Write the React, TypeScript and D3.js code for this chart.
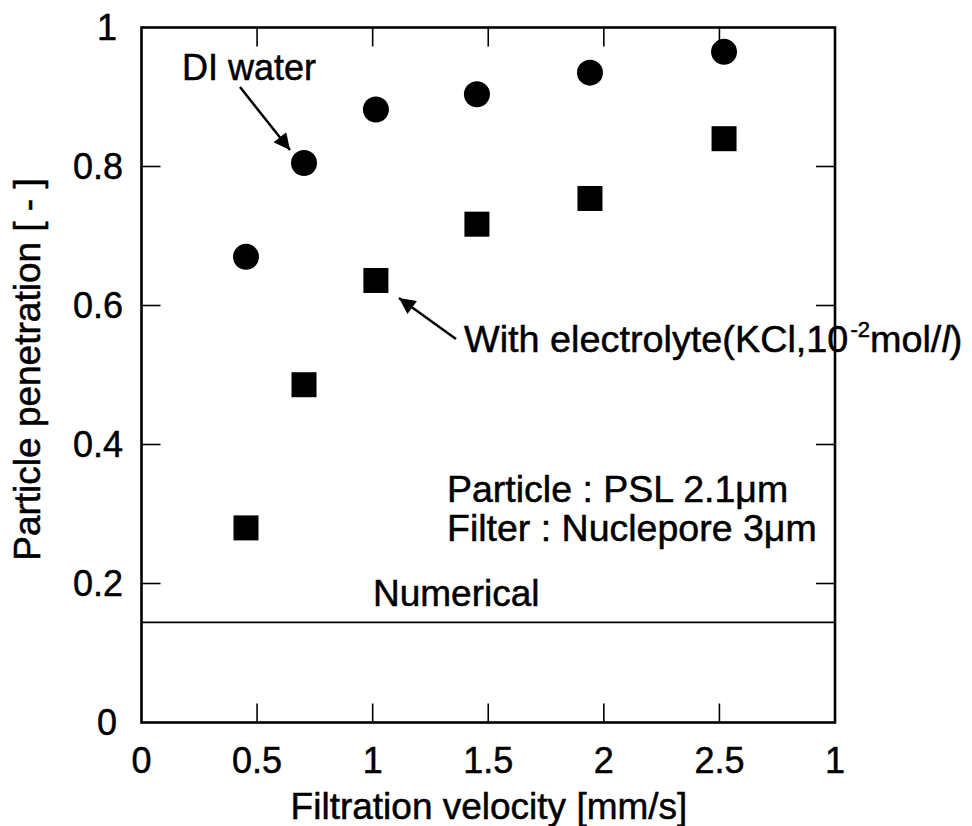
import React from "react";
import * as d3 from "d3";

// ---- data ----
const velocity = [0.452, 0.703, 1.014, 1.451, 1.94, 2.52];
const diWater = [0.67, 0.805, 0.882, 0.904, 0.935, 0.965];
const electrolyte = [0.28, 0.486, 0.636, 0.717, 0.754, 0.84];
const numericalValue = 0.144;
const xTickValues = [0, 0.5, 1, 1.5, 2, 2.5, 3];
const xTickLabels = ["0", "0.5", "1", "1.5", "2", "2.5", "1"];
const yTickValues = [0, 0.2, 0.4, 0.6, 0.8, 1];
const yTickLabels = ["0", "0.2", "0.4", "0.6", "0.8", "1"];

const W = 972;
const H = 826;
const L = 141.5, R = 835, T = 27.5, B = 722.5;
const FONT = "'Liberation Sans', Arial, Helvetica, sans-serif";

export default function App() {
  const x = d3.scaleLinear().domain([0, 3]).range([L, R]);
  const y = d3.scaleLinear().domain([0, 1]).range([B, T]);
  const tick = 19;
  const inner = (v: number) => v > 0 && v < 3;
  const innerY = (v: number) => v > 0 && v < 1;
  const sq = 25;
  const r = 13;

  return (
    <svg
      width={W}
      height={H}
      viewBox={`0 0 ${W} ${H}`}
      style={{ position: "absolute", left: 0, top: 0, background: "#fff" }}
      fontFamily={FONT}
    >
      <defs>
        <marker id="ah" viewBox="0 0 10 10" refX="10" refY="5" markerWidth="8" markerHeight="6.5" orient="auto" markerUnits="strokeWidth">
          <path d="M0,0 L10,5 L0,10 z" fill="#000" />
        </marker>
      </defs>
      <rect x={0} y={0} width={W} height={H} fill="#fff" />

      {/* ticks */}
      <g stroke="#000" strokeWidth={1.6}>
        {xTickValues.filter(inner).map((v, i) => (
          <g key={"xt" + i}>
            <line x1={x(v)} x2={x(v)} y1={B} y2={B - tick} />
            <line x1={x(v)} x2={x(v)} y1={T} y2={T + tick} />
          </g>
        ))}
        {yTickValues.filter(innerY).map((v, i) => (
          <g key={"yt" + i}>
            <line x1={L} x2={L + tick} y1={y(v)} y2={y(v)} />
            <line x1={R} x2={R - tick} y1={y(v)} y2={y(v)} />
          </g>
        ))}
      </g>

      {/* numerical line */}
      <line x1={L} x2={R} y1={y(numericalValue)} y2={y(numericalValue)} stroke="#000" strokeWidth={1.6} />

      {/* frame */}
      <rect x={L} y={T} width={R - L} height={B - T} fill="none" stroke="#000" strokeWidth={2.6} />

      <g fill="#000" stroke="#000" strokeWidth={0.5}>
        {/* tick labels */}
        <g fontSize={36}>
          {xTickValues.map((v, i) => (
            <text key={"xl" + i} x={x(v)} y={773} textAnchor="middle">
              {xTickLabels[i]}
            </text>
          ))}
          {yTickValues.map((v, i) => (
            <text
              key={"yl" + i}
              x={yTickLabels[i].length === 1 ? 117 : 123}
              y={y(v)}
              dy="0.36em"
              textAnchor="end"
            >
              {yTickLabels[i]}
            </text>
          ))}
        </g>

        {/* axis titles */}
        <text x={489} y={819} textAnchor="middle" fontSize={37}>
          Filtration velocity [mm/s]
        </text>
        <text
          transform={`translate(40,${369.5}) rotate(-90)`}
          textAnchor="middle"
          fontSize={37}
        >
          Particle penetration [ - ]
        </text>

        {/* annotations */}
        <text x={182} y={80} fontSize={36}>DI water</text>
        <text x={464} y={352} fontSize={37.8}>
          With electrolyte(KCl,10
          <tspan fontSize={22} dx={2} dy={-15}>-2</tspan>
          <tspan dy={15}>mol/</tspan>
          <tspan fontStyle="italic">l</tspan>)
        </text>
        <text x={447} y={502} fontSize={37.5}>Particle : PSL 2.1μm</text>
        <text x={447} y={541} fontSize={37.5}>Filter : Nuclepore 3μm</text>
        <text x={373} y={606} fontSize={37}>Numerical</text>
      </g>

      <line x1={240} y1={87} x2={290} y2={150} stroke="#000" strokeWidth={2.5} markerEnd="url(#ah)" />
      <line x1={456} y1={339} x2={399} y2={298} stroke="#000" strokeWidth={2.5} markerEnd="url(#ah)" />

      {/* markers */}
      {velocity.map((v, i) => (
        <circle key={"c" + i} cx={x(v)} cy={y(diWater[i])} r={r} fill="#000" />
      ))}
      {velocity.map((v, i) => (
        <rect
          key={"s" + i}
          x={x(v) - sq / 2}
          y={y(electrolyte[i]) - sq / 2}
          width={sq}
          height={sq}
          fill="#000"
        />
      ))}
    </svg>
  );
}
